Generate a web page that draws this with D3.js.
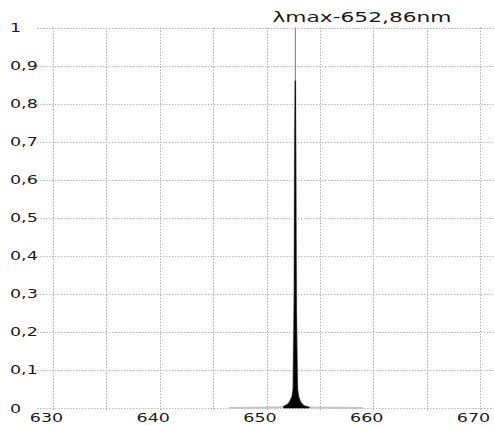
<!DOCTYPE html>
<html>
<head>
<meta charset="utf-8">
<script src="https://cdn.jsdelivr.net/npm/d3@7"></script>
<style>
  html, body { margin: 0; padding: 0; background: #fff; }
  svg { display: block; }
  text { font-family: "DejaVu Sans", sans-serif; fill: #1a1a1a; }
</style>
</head>
<body>
<svg id="chart" width="494" height="425"></svg>
<script>
// ---- data ----
const titleText = "λmax-652,86nm";
const peakWavelength = 652.7;
const wavelengths = [646.5, 651.0, 651.6, 652.0, 652.2, 652.4, 652.5, 652.6, 652.65, 652.7, 652.75, 652.8, 652.9, 653.0, 653.2, 653.5, 654.0, 654.5, 659.0];
const intensities = [0.0, 0.001, 0.004, 0.01, 0.018, 0.03, 0.05, 0.3, 0.72, 0.86, 0.6, 0.25, 0.05, 0.03, 0.015, 0.006, 0.002, 0.001, 0.0];
const xTicks = [630, 640, 650, 660, 670];
const xGrid = [630, 635, 640, 645, 650, 655, 660, 665, 670];
const yTicks = [0, 0.1, 0.2, 0.3, 0.4, 0.5, 0.6, 0.7, 0.8, 0.9, 1];
const yTickLabels = ["0", "0,1", "0,2", "0,3", "0,4", "0,5", "0,6", "0,7", "0,8", "0,9", "1"];

const data = wavelengths.map((w, i) => ({ w, v: intensities[i] }));

const svg = d3.select("#chart");
const W = 494;
const x = d3.scaleLinear().domain([630, 670]).range([53, 480]);
const y = d3.scaleLinear().domain([0, 1]).range([408, 27.5]);
const SX = 1.4;

// gridlines
const grid = svg.append("g");
grid.selectAll("line.h").data(yTicks).join("line")
  .attr("x1", 37).attr("x2", W)
  .attr("y1", d => Math.round(y(d)) + 0.5).attr("y2", d => Math.round(y(d)) + 0.5)
  .attr("stroke", "#b8b8b8").attr("stroke-width", 1).attr("stroke-dasharray", "1.5,1.5");
grid.selectAll("line.v").data(xGrid).join("line")
  .attr("x1", d => Math.round(x(d)) + 0.5).attr("x2", d => Math.round(x(d)) + 0.5)
  .attr("y1", y(1)).attr("y2", 410)
  .attr("stroke", "#b0b0b0").attr("stroke-width", 1).attr("stroke-dasharray", "1.5,1.5");

// y labels
svg.append("g").selectAll("text").data(yTicks).join("text")
  .attr("transform", d => `translate(10,${y(d) + 4.5}) scale(${SX},1)`)
  .attr("font-size", 12.5)
  .text((d, i) => yTickLabels[i]);

// x labels
svg.append("g").selectAll("text").data(xTicks).join("text")
  .attr("transform", d => `translate(${x(d) - 6.5},422) scale(${SX},1)`)
  .attr("text-anchor", "middle")
  .attr("font-size", 12.5)
  .text(d => d);

// baseline of data
svg.append("path").datum(data)
  .attr("d", d3.line().x(d => x(d.w)).y(d => y(d.v)))
  .attr("fill", "none").attr("stroke", "#c4c4c4").attr("stroke-width", 2);

// peak marker line
svg.append("line")
  .attr("x1", x(peakWavelength)).attr("x2", x(peakWavelength))
  .attr("y1", y(1)).attr("y2", y(0))
  .attr("stroke", "#777").attr("stroke-width", 1);

// filled spectrum
svg.append("path").datum(data.filter(d => d.w > 651.5 && d.w < 654.2))
  .attr("d", d3.area().x(d => x(d.w)).y0(y(0)).y1(d => y(d.v)))
  .attr("fill", "#000").attr("stroke", "#000").attr("stroke-width", 0.6);

// title
svg.append("text")
  .attr("transform", `translate(362,22) scale(1.5,1)`)
  .attr("text-anchor", "middle")
  .attr("font-size", 14.5)
  .text(titleText);
</script>
</body>
</html>
